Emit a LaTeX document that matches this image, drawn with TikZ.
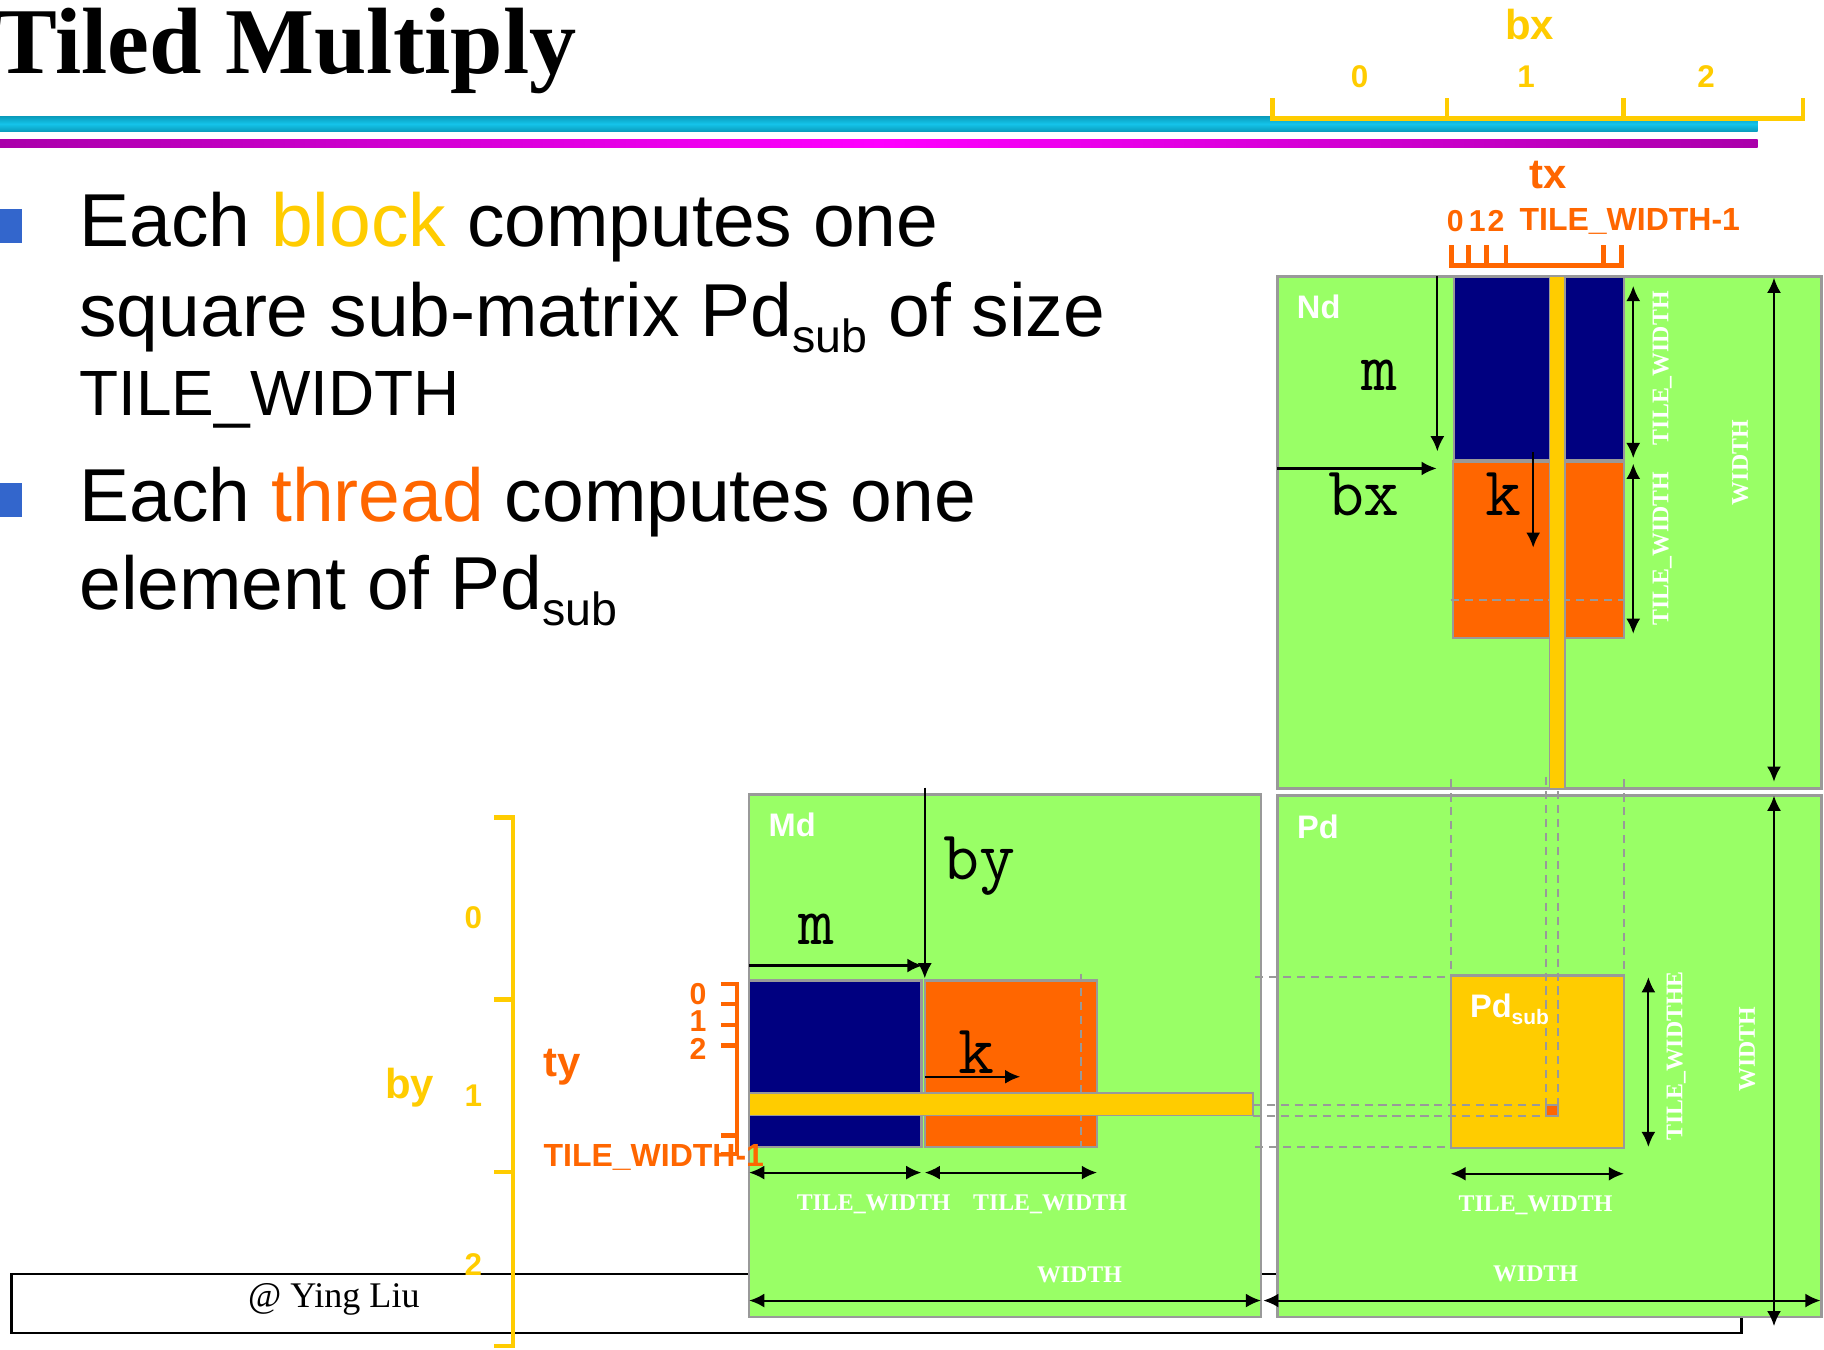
\documentclass[tikz,border=0pt]{standalone}
\usepackage{fontspec}
\setmainfont{Liberation Serif}
\setsansfont{Liberation Sans}
\usetikzlibrary{arrows.meta}

\definecolor{matgreen}{HTML}{99FF66}
\definecolor{tileblue}{HTML}{000080}
\definecolor{tileorange}{HTML}{FF6600}
\definecolor{tileyellow}{HTML}{FFCC00}
\definecolor{edgegray}{HTML}{999999}
\definecolor{bulletblue}{HTML}{3366CC}
\definecolor{barcyan}{HTML}{14C4EA}
\definecolor{bardark}{HTML}{0A9CBC}
\definecolor{barpink}{HTML}{FF00FF}
\definecolor{barpurple}{HTML}{AA00AA}

\newcommand{\pxsize}[1]{\fontsize{#1}{#1}\selectfont}

\begin{document}
\begin{tikzpicture}[x=1pt,y=-1pt,inner sep=0pt,
    >={Latex[length=13pt,width=12pt]},
    mat/.style={fill=matgreen,draw=edgegray,line width=2.2pt},
    tile/.style={draw=edgegray,line width=2.2pt},
    guide/.style={draw=edgegray,line width=1.6pt,dash pattern=on 7pt off 5pt},
    dim/.style={<->,line width=1.8pt},
    pointer/.style={->,line width=1.8pt},
    bracket/.style={line width=4pt},
    dimlabel/.style={text=white,font=\rmfamily\bfseries\pxsize{20.5}},
    matname/.style={text=white,font=\sffamily\bfseries\pxsize{28}},
    index/.style={font=\ttfamily\pxsize{60}},
    blocklabel/.style={text=tileyellow,font=\sffamily\bfseries\pxsize{36}},
    blocknum/.style={text=tileyellow,font=\sffamily\bfseries\pxsize{27}},
    threadlabel/.style={text=tileorange,font=\sffamily\bfseries\pxsize{36}},
    threadnum/.style={text=tileorange,font=\sffamily\bfseries\pxsize{26}},
    threadlast/.style={text=tileorange,font=\sffamily\bfseries\pxsize{27.5}}]
    \useasboundingbox (0,0) rectangle (1568,1160);

    % footer
    \draw[line width=2pt] (10,1095) rectangle (1497,1146);
    \node[font=\rmfamily\pxsize{31}] (credit) at (287,1117) {@ Ying Liu};

    % title and rules
    \node[anchor=base west,font=\rmfamily\bfseries\pxsize{81}] (title) at (-5,63.6) {Tiled Multiply};
    \shade[top color=bardark,bottom color=bardark,middle color=barcyan] (0,100) rectangle (1511,113);
    \shade[left color=barpurple,right color=barpurple,middle color=barpink] (0,120) rectangle (1511,127);

    % bullets
    \fill[bulletblue] (0,180) rectangle (19,208.6);
    \fill[bulletblue] (0,415.5) rectangle (19,444);
    \node[anchor=base west,font=\sffamily\pxsize{64.5}] (line1) at (68,212) {Each \textcolor{tileyellow}{block} computes one};
    \node[anchor=base west,font=\sffamily\pxsize{64.5}] (line2) at (68,289) {square sub-matrix Pd\raisebox{-14pt}{\pxsize{40}sub} of size};
    \node[anchor=base west,font=\sffamily\pxsize{55}] (line3) at (68,357) {TILE\_WIDTH};
    \node[anchor=base west,font=\sffamily\pxsize{64.5}] (line4) at (68,448) {Each \textcolor{tileorange}{thread} computes one};
    \node[anchor=base west,font=\sffamily\pxsize{64.5}] (line5) at (68,524) {element of Pd\raisebox{-14pt}{\pxsize{40}sub}};

    % matrices
    \draw[mat] (1098,237.5) rectangle (1566,678);
    \draw[mat] (644,683) rectangle (1084,1132);
    \draw[mat] (1098,684) rectangle (1566,1132);

    % tiles
    \draw[tile,fill=tileblue] (1250,237.5) rectangle (1396,396);
    \draw[tile,fill=tileorange] (1249,396.7) rectangle (1396,548.4);
    \draw[tile,fill=tileblue] (644,843) rectangle (792,986);
    \draw[tile,fill=tileorange] (795,843) rectangle (943,986);
    \draw[tile,fill=tileyellow] (1247.5,838.6) rectangle (1396,986.7);

    % guide lines
    \draw[guide] (1247,516) -- (1396,516);
    \draw[guide] (929,837) -- (929,986);
    \foreach \gx in {1247.5,1396} \draw[guide] (\gx,670) -- (\gx,838.6);
    \foreach \gx in {1329,1339} \draw[guide] (\gx,668) -- (\gx,959.6);
    \foreach \gy in {840,986} \draw[guide] (1079,\gy) -- (1247.5,\gy);
    \foreach \gy in {950,959.6} \draw[guide] (1077,\gy) -- (1329,\gy);

    % row, column and element
    \draw[draw=edgegray,line width=1.5pt,fill=tileyellow] (1332,237.5) rectangle (1345.6,678);
    \draw[draw=edgegray,line width=1.5pt,fill=tileyellow] (644,939.5) rectangle (1077,959);
    \draw[draw=edgegray,line width=1.5pt,fill=tileorange] (1329,950) rectangle (1339,959.6);

    % Nd
    \node[matname] (ndname) at (1133.6,264) {Nd};
    \draw[pointer] (1235.6,237.5) -- (1235.6,388);
    \draw[pointer] (1098,402.7) -- (1235,402.7);
    \draw[pointer] (1318,388.7) -- (1318,470.8);
    \node[index] (ndm) at (1186,322.8) {m};
    \node[index] (ndbx) at (1172.5,424.8) {bx};
    \node[index] (ndk) at (1292.4,424.8) {k};
    \draw[dim] (1404,245.8) -- (1404,393.8);
    \draw[dim] (1404,398.7) -- (1404,544.8);
    \draw[dim] (1525,238.8) -- (1525,672);
    \node[dimlabel,rotate=90] (ndtw1) at (1429,316.5) {TILE\_WIDTH};
    \node[dimlabel,rotate=90] (ndtw2) at (1429,471.5) {TILE\_WIDTH};
    \node[dimlabel,rotate=90] (ndw) at (1496,397.7) {WIDTH};

    % Md
    \node[matname] (mdname) at (681,709) {Md};
    \draw[pointer] (644,830) -- (793,830);
    \draw[pointer] (795,677) -- (795,841);
    \draw[pointer] (795,925.6) -- (877,925.6);
    \node[index] (mdm) at (702,798.6) {m};
    \node[index] (mdby) at (842,744.7) {by};
    \node[index] (mdk) at (839,904.6) {k};
    \draw[dim] (644,1008) -- (792,1008);
    \draw[dim] (795,1008) -- (943,1008);
    \draw[dim] (644,1118) -- (1084,1118);
    \node[dimlabel] (mdtw1) at (751,1035.6) {TILE\_WIDTH};
    \node[dimlabel] (mdtw2) at (902.6,1035.6) {TILE\_WIDTH};
    \node[dimlabel] (mdw) at (928,1096) {WIDTH};

    % Pd
    \node[matname] (pdname) at (1133,711) {Pd};
    \node[matname,anchor=base west] (pdsub) at (1263.5,875) {Pd\raisebox{-6pt}{\pxsize{18}sub}};
    \draw[dim] (1417,840) -- (1417,986);
    \draw[dim] (1247,1009) -- (1396,1009);
    \draw[dim] (1086,1118) -- (1565,1118);
    \draw[dim] (1525,684) -- (1525,1140);
    \node[dimlabel,rotate=90] (pdtw1) at (1441,907.8) {TILE\_WIDTHE};
    \node[dimlabel] (pdtw2) at (1320,1036) {TILE\_WIDTH};
    \node[dimlabel] (pdw1) at (1320,1095) {WIDTH};
    \node[dimlabel,rotate=90] (pdw2) at (1502,902) {WIDTH};

    % block index bx
    \draw[bracket,tileyellow] (1094,84.5) -- (1094,101.7) -- (1550,101.7) -- (1550,84.5);
    \foreach \tick in {1244,1395.5} \draw[bracket,tileyellow] (\tick,101.7) -- (\tick,84.5);
    \node[blocklabel] (bxlabel) at (1315,21.5) {bx};
    \node[blocknum] (bx0) at (1168.8,66) {0};
    \node[blocknum] (bx1) at (1312,66) {1};
    \node[blocknum] (bx2) at (1466.7,66) {2};

    % block index by
    \draw[bracket,tileyellow] (425,703) -- (441,703) -- (441,1157) -- (425,1157);
    \foreach \tick in {859,1007.6} \draw[bracket,tileyellow] (441,\tick) -- (425,\tick);
    \node[blocklabel] (bylabel) at (352,935) {by};
    \node[blocknum] (by0) at (407,789) {0};
    \node[blocknum] (by1) at (407,942) {1};
    \node[blocknum] (by2) at (407,1087) {2};

    % thread index tx
    \draw[bracket,tileorange] (1248,211) -- (1248,228) -- (1394,228) -- (1394,211);
    \foreach \tick in {1262.6,1278,1294.5,1378.6} \draw[bracket,tileorange] (\tick,228) -- (\tick,211);
    \node[threadlabel] (txlabel) at (1330.6,150.5) {tx};
    \node[threadnum] (tx0) at (1251,190) {0};
    \node[threadnum] (tx1) at (1270,190) {1};
    \node[threadnum] (tx2) at (1286,190) {2};
    \node[threadlast] (txlast) at (1401,190) {TILE\_WIDTH-1};

    % thread index ty
    \draw[bracket,tileorange] (619.6,846) -- (633.7,846) -- (633.7,992) -- (619.6,992);
    \foreach \tick in {863,881,899,976} \draw[bracket,tileorange] (633.7,\tick) -- (619.6,\tick);
    \node[threadlabel] (tylabel) at (483,917) {ty};
    \node[threadnum] (ty0) at (600,854.6) {0};
    \node[threadnum] (ty1) at (600,878) {1};
    \node[threadnum] (ty2) at (600,901.5) {2};
    \node[threadlast] (tylast) at (562,995) {TILE\_WIDTH-1};

\end{tikzpicture}
\end{document}
